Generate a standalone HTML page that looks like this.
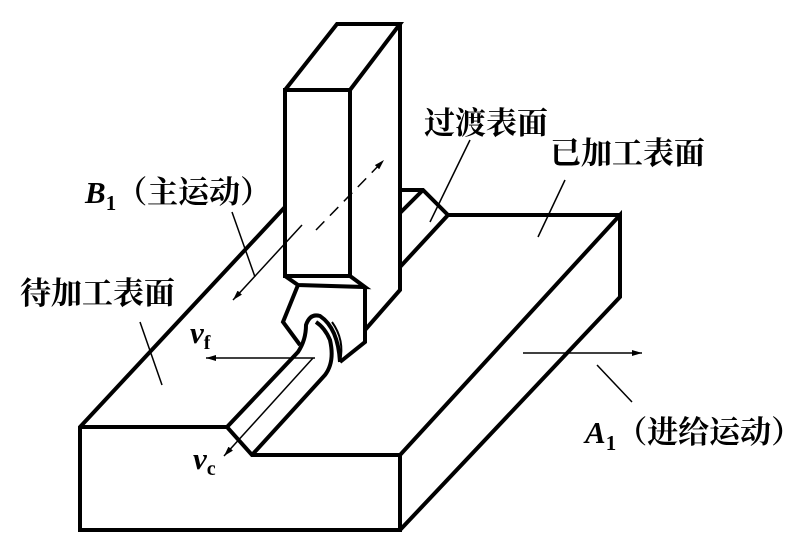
<!DOCTYPE html>
<html><head><meta charset="utf-8"><style>
body{margin:0;background:#fff}
svg{display:block}
text{font-family:"Liberation Serif","Noto Serif CJK SC",serif;fill:#000}
</style></head><body>
<svg width="801" height="556" viewBox="0 0 801 556" xmlns="http://www.w3.org/2000/svg">
<defs>
<marker id="ah" markerWidth="10" markerHeight="6" refX="10" refY="3" orient="auto" markerUnits="userSpaceOnUse"><path d="M0,0 L10,3 L0,6 Z" fill="#000"/></marker>
</defs>
<g fill="none" stroke="#000" stroke-width="4" stroke-linejoin="miter">
<path d="M285,207 L80,427 L80,530 L400,530 L400,455 L620,215 L620,297 L400,530"/>
<path d="M80,427 L227,427 L252,455 L400,455"/>
<path d="M448,215 L620,215"/>
<path d="M400,190 L423,190 L448,215 L400,267"/>
<path d="M400,213 L423,190"/>
<path d="M285,90 L350,90 L350,276 L285,276 Z"/>
<path d="M285,90 L337,24 L400,24 L350,90"/>
<path d="M400,24 L400,290 L365,330"/>
<path d="M285,276 L298,285 L365,287 L350,276"/>
<path d="M298,285 L283,322 L300,345"/>
<path d="M365,287 L365,342 L340,362"/>
<path d="M227,427 L298,352 Q306,340 306,325 Q310,313 320,316 Q338,328 340,362"/>
<path d="M252,455 L325,375 Q335,362 330,340 Q325,328 316,322"/>
</g>
<path d="M340,362 Q345,340 332,322" fill="none" stroke="#000" stroke-width="2"/>
<g stroke="#000" stroke-width="1.5" fill="none">
<line x1="315" y1="358" x2="206" y2="358" marker-end="url(#ah)"/>
<line x1="313" y1="358" x2="224" y2="456" marker-end="url(#ah)"/>
<line x1="523" y1="353" x2="642" y2="353" marker-end="url(#ah)"/>
<line x1="302" y1="225" x2="233" y2="300" marker-end="url(#ah)"/>
<line x1="316" y1="230" x2="384" y2="160" stroke-dasharray="12,8" marker-end="url(#ah)"/>
<line x1="232" y1="212" x2="255" y2="277"/>
<line x1="140" y1="322" x2="162" y2="385"/>
<line x1="470" y1="140" x2="430" y2="222"/>
<line x1="565" y1="180" x2="538" y2="237"/>
<line x1="597" y1="365" x2="632" y2="402"/>
</g>
<g font-size="31" font-weight="bold">
<text x="424" y="134">过渡表面</text>
<text x="550" y="164">已加工表面</text>
<text x="20" y="304">待加工表面</text>
<text x="85" y="203"><tspan font-style="italic">B</tspan><tspan font-size="21" dy="7">1</tspan><tspan dy="-7">（主运动）</tspan></text>
<text x="585" y="443"><tspan font-style="italic">A</tspan><tspan font-size="21" dy="7">1</tspan><tspan dy="-7">（进给运动）</tspan></text>
<text x="190" y="343" font-style="italic">v<tspan font-style="normal" font-size="20" dy="6">f</tspan></text>
<text x="193" y="469" font-style="italic">v<tspan font-style="normal" font-size="20" dy="6">c</tspan></text>
</g>
</svg>
</body></html>
